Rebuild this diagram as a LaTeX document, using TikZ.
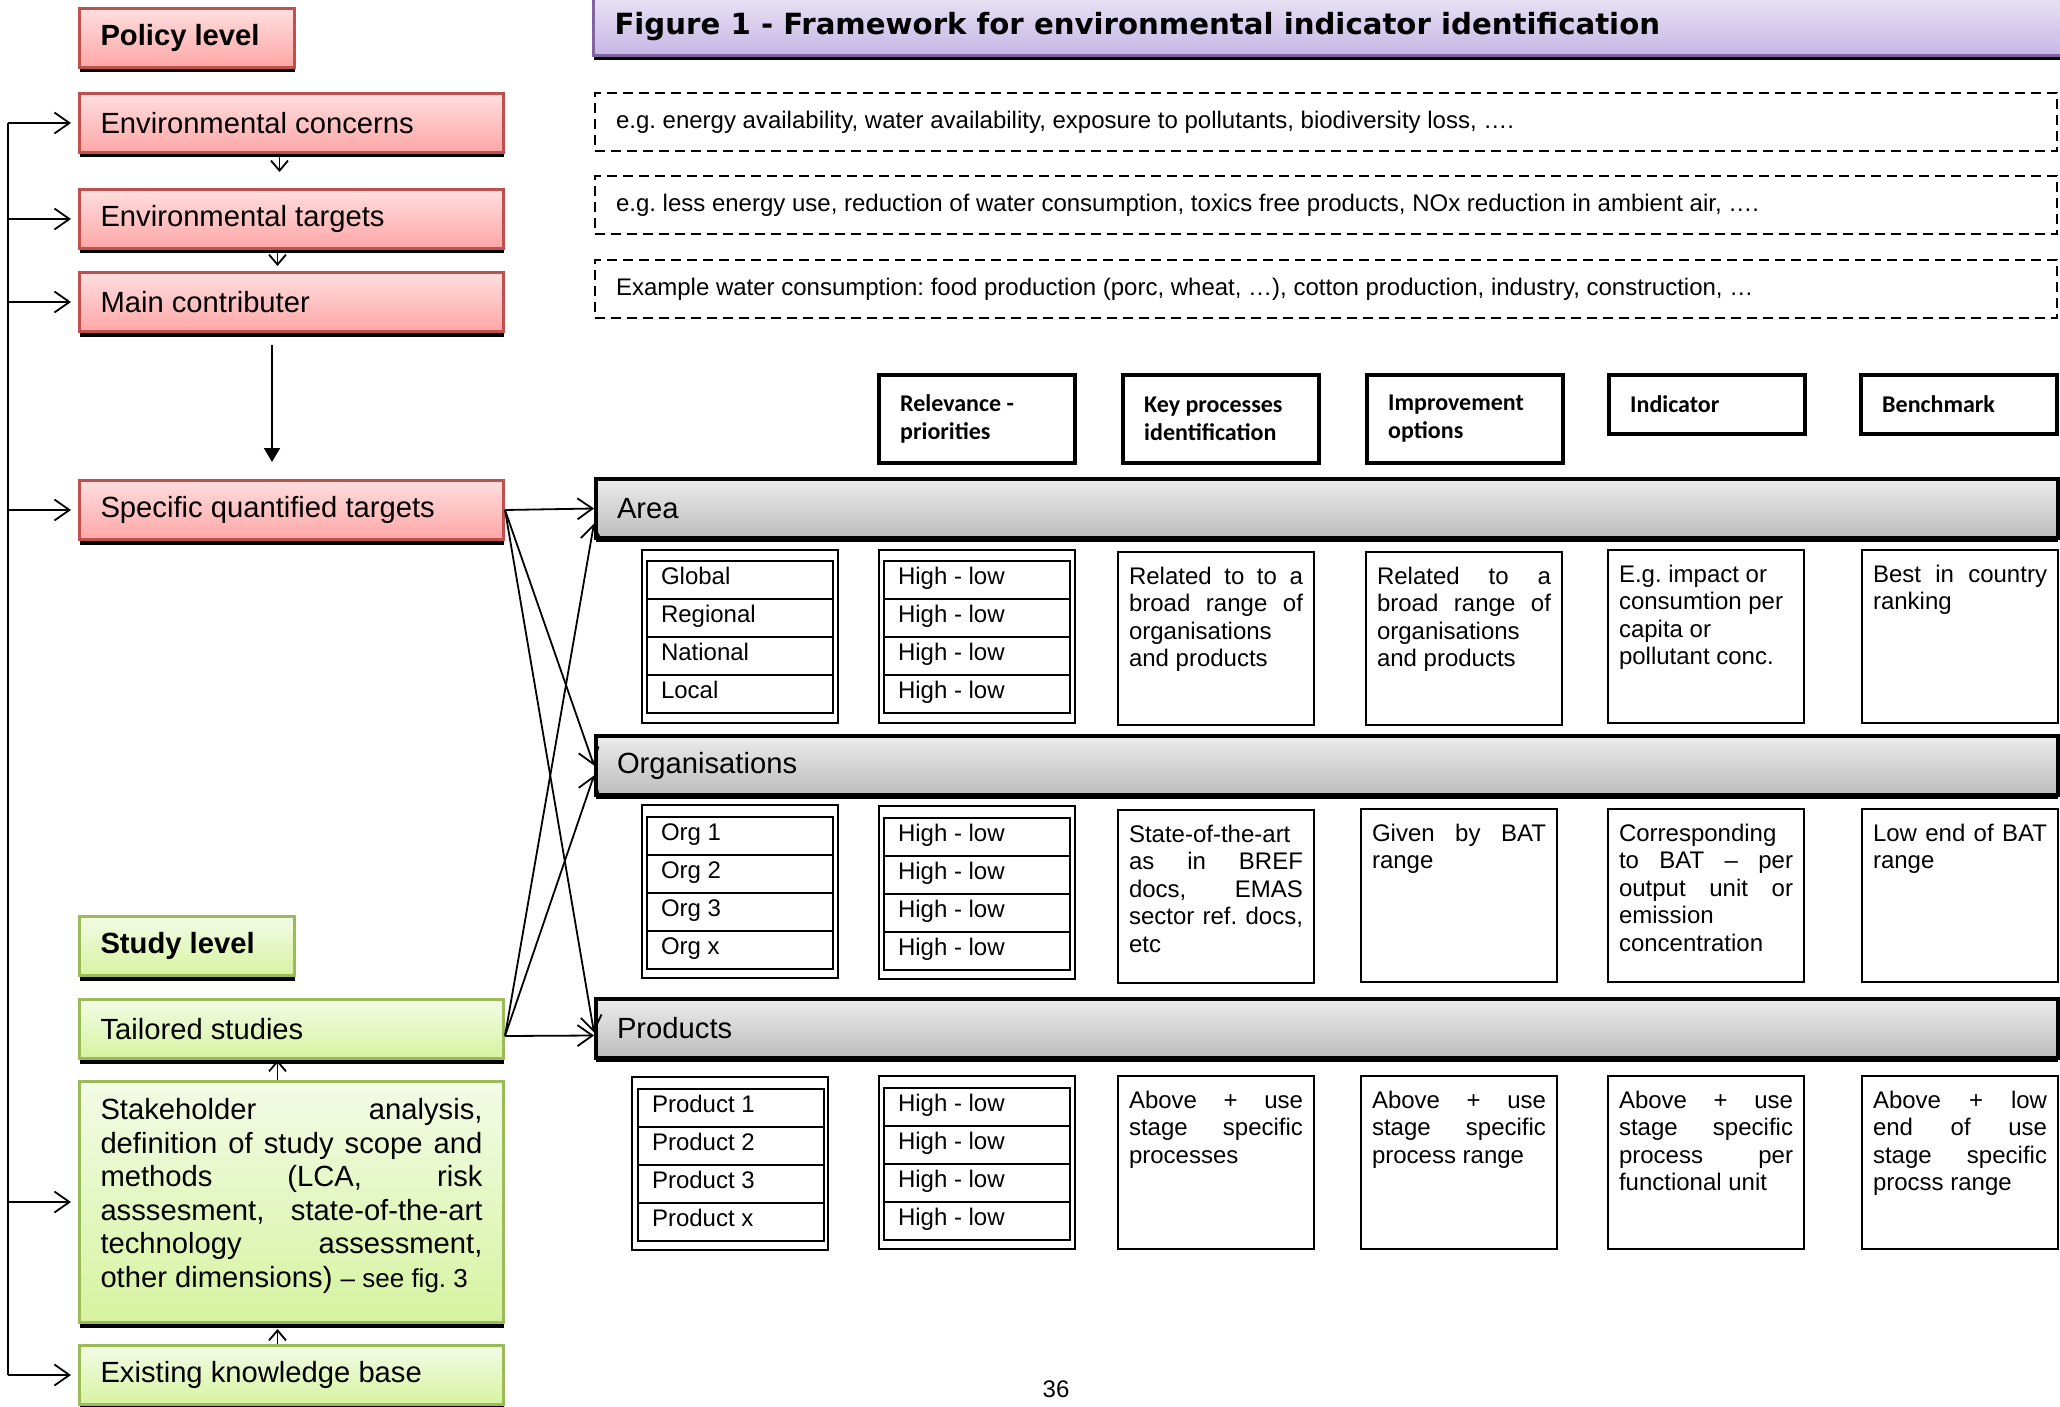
\documentclass[tikz,border=0pt]{standalone}
\usepackage{fontspec}
\setmainfont{Liberation Sans}
\newfontfamily\headfont{Carlito}
\newfontfamily\titlefont{DejaVu Sans}
\usetikzlibrary{arrows.meta,shadows}
\frenchspacing

\definecolor{polred}{RGB}{192,80,77}
\definecolor{polredtop}{RGB}{255,222,222}
\definecolor{polredbot}{RGB}{255,166,166}
\definecolor{studygreen}{RGB}{155,187,89}
\definecolor{studytop}{RGB}{243,251,230}
\definecolor{studybot}{RGB}{214,243,160}
\definecolor{figpurple}{RGB}{128,100,162}
\definecolor{figtop}{RGB}{232,226,244}
\definecolor{figbot}{RGB}{198,182,228}
\definecolor{bartop}{RGB}{236,236,236}
\definecolor{barbot}{RGB}{188,188,188}

\newcommand{\bigtxt}{\fontsize{14.6}{16.8}\selectfont}
\newcommand{\smalltxt}{\fontsize{12}{13.8}\selectfont}
\newcommand{\headtxt}{\headfont\bfseries\fontsize{12}{14}\selectfont}
\newcommand{\spread}[1]{\makebox[\linewidth][s]{\spaceskip=0pt\xspaceskip=0pt #1}}

\begin{document}
\begin{tikzpicture}[x=0.5pt, y=-0.5pt,
  every node/.append style={execute at begin node={\spaceskip=0pt\xspaceskip=0pt\rightskip=0pt plus 1fil\relax}},
  shadowed/.style={drop shadow={shadow xshift=0pt, shadow yshift=-2.5pt, opacity=1, fill=black}},
  polbox/.style={shadowed, draw=polred, line width=1.5pt, top color=polredtop, bottom color=polredbot,
    anchor=north west, minimum height=29.5pt, inner xsep=10.5pt, align=left, font=\bigtxt},
  studybox/.style={polbox, draw=studygreen, top color=studytop, bottom color=studybot},
  wide/.style={text width=191pt},
  narrow/.style={text width=86.5pt},
  figbox/.style={shadowed, draw=figpurple, line width=1.5pt, top color=figtop, bottom color=figbot,
    anchor=north west, minimum height=29pt, text width=713.5pt, inner xsep=10.5pt, align=left},
  dashbox/.style={draw, line width=1pt, dash pattern=on 5pt off 3pt, anchor=north west,
    minimum height=29pt, text width=710pt, inner xsep=10.5pt, align=left, font=\smalltxt},
  headbox/.style={draw, line width=2.2pt, anchor=north west, text width=76.8pt, inner xsep=10.5pt,
    align=left, font=\headtxt},
  barbox/.style={drop shadow={shadow xshift=0pt, shadow yshift=-2pt, opacity=1, fill=black},
    draw, line width=2pt, top color=bartop, bottom color=barbot, anchor=north west,
    minimum height=29.5pt, text width=710pt, inner xsep=10.5pt, align=left, font=\bigtxt},
  cell/.style={draw, line width=1pt, anchor=north west, minimum width=98pt, minimum height=86.5pt},
  celltxt/.style={cell, text width=87pt, inner xsep=5.5pt, inner ysep=0pt, text height=16pt,
    text depth=70.5pt, align=left, font=\smalltxt},
  rowcell/.style={draw, line width=1pt, anchor=north west, text width=79pt, inner xsep=7pt,
    inner ysep=0pt, text height=11.5pt, text depth=7.5pt, align=left, font=\smalltxt},
  conn/.style={line width=0.9pt, -{Straight Barb[length=7.5pt,width=10.5pt]}},
  small/.style={line width=0.9pt, -{Straight Barb[length=5pt,width=8.5pt]}}]
\useasboundingbox (0,0) rectangle (2060,1407);

% policy level
\node[polbox, narrow, font=\bigtxt\bfseries] (policy) at (78,7) {Policy level};
\node[polbox, wide] (envc) at (78,92) {Environmental concerns};
\node[polbox, wide] (envt) at (78,188) {Environmental targets};
\node[polbox, wide] (mainc) at (78,271) {Main contributer};
\node[polbox, wide] (spec) at (78,479) {Specific quantified targets};

% study level
\node[studybox, narrow, font=\bigtxt\bfseries] (study) at (78,915) {Study level};
\node[studybox, wide] (tail) at (78,998) {Tailored studies};
\node[studybox, wide, minimum height=120.5pt] (stake) at (78,1080)
  {\spread{Stakeholder analysis,}\\\spread{definition of study scope and}\\
   \spread{methods (LCA, risk}\\\spread{asssesment, state-of-the-art}\\
   \spread{technology assessment,}\\other dimensions) {\fontsize{13}{16.8}\selectfont – see fig. 3}\par\kern6pt};
\node[studybox, wide] (exist) at (78,1344) {Existing knowledge base};

% title and examples
\node[figbox] (title) at (592,-4)
  {\titlefont\bfseries\fontsize{14.6}{17}\selectfont Figure 1 - Framework for environmental indicator identification};
\node[dashbox] (concernsex) at (594,92)
  {e.g. energy availability, water availability, exposure to pollutants, biodiversity loss, ….};
\node[dashbox] (targetsex) at (594,175)
  {e.g. less energy use, reduction of water consumption, toxics free products, NOx reduction in ambient air, ….};
\node[dashbox] (contribex) at (594,259)
  {Example water consumption: food production (porc, wheat, …), cotton production, industry, construction, …};

% column heads
\node[headbox, minimum height=43.8pt] (relevance) at (877,373) {Relevance -\\priorities};
\node[headbox, minimum height=43.8pt] (keyproc) at (1121,373) {Key processes\\identification};
\node[headbox, minimum height=43.8pt] (improve) at (1365,373) {Improvement\\options};
\node[headbox, minimum height=29.3pt] (indicator) at (1607,373) {Indicator};
\node[headbox, minimum height=29.3pt] (benchmark) at (1859,373) {Benchmark};

% levels
\node[barbox] (area) at (594,477) {Area};
\node[barbox] (orgs) at (594,734) {Organisations};
\node[barbox] (prods) at (594,997) {Products};

% area row
\node[cell] (areaA) at (641,549) {};
\foreach \t [count=\i from 0] in {Global,Regional,National,Local}
  \node[rowcell] (areaA\i) at (646,560+38*\i) {\t};
\node[cell] (areaB) at (878,549) {};
\foreach \i in {0,...,3}
  \node[rowcell] (areaB\i) at (883,560+38*\i) {High - low};
\node[celltxt] (areaC) at (1117,551) {\spread{Related to to a}\\\spread{broad range of}\\organisations\\and products};
\node[celltxt] (areaD) at (1365,551) {\spread{Related to a}\\\spread{broad range of}\\organisations\\and products};
\node[celltxt] (areaE) at (1607,549) {E.g. impact or\\consumtion per\\capita or\\pollutant conc.};
\node[celltxt] (areaF) at (1861,549) {\spread{Best in country}\\ranking};

% organisations row
\node[cell] (orgsA) at (641,804) {};
\foreach \t [count=\i from 0] in {Org 1,Org 2,Org 3,Org x}
  \node[rowcell] (orgsA\i) at (646,816+38*\i) {\t};
\node[cell] (orgsB) at (878,805) {};
\foreach \i in {0,...,3}
  \node[rowcell] (orgsB\i) at (883,817+38*\i) {High - low};
\node[celltxt] (orgsC) at (1117,809) {State-of-the-art\\\spread{as in BREF}\\\spread{docs, EMAS}\\\spread{sector ref. docs,}\\etc};
\node[celltxt] (orgsD) at (1360,808) {\spread{Given by BAT}\\range};
\node[celltxt] (orgsE) at (1607,808) {Corresponding\\\spread{to BAT – per}\\\spread{output unit or}\\emission\\concentration};
\node[celltxt] (orgsF) at (1861,808) {\spread{Low end of BAT}\\range};

% products row
\node[cell] (prodsA) at (631,1076) {};
\foreach \t [count=\i from 0] in {Product 1,Product 2,Product 3,Product x}
  \node[rowcell] (prodsA\i) at (637,1088+38*\i) {\t};
\node[cell] (prodsB) at (878,1075) {};
\foreach \i in {0,...,3}
  \node[rowcell] (prodsB\i) at (883,1087+38*\i) {High - low};
\node[celltxt] (prodsC) at (1117,1075) {\spread{Above + use}\\\spread{stage specific}\\processes};
\node[celltxt] (prodsD) at (1360,1075) {\spread{Above + use}\\\spread{stage specific}\\process range};
\node[celltxt] (prodsE) at (1607,1075) {\spread{Above + use}\\\spread{stage specific}\\\spread{process per}\\functional unit};
\node[celltxt] (prodsF) at (1861,1075) {\spread{Above + low}\\\spread{end of use}\\\spread{stage specific}\\procss range};

\node[font=\smalltxt] (pagenum) at (1056,1389) {36};

% feedback line on the left
\coordinate (fb) at (8,0);
\draw[line width=0.9pt] (fb |- envc.west) -- (fb |- exist.west);
\foreach \b in {envc,envt,mainc,spec,stake,exist}
  \draw[conn, shorten >=3.5pt] (fb |- \b.west) -- (\b.west);

% arrows between the boxes
\draw[small, shorten >=8pt] ([xshift=-6pt]envc.south) -- ([xshift=-6pt]envt.north);
\draw[small, shorten >=2.5pt] ([xshift=-7pt]envt.south) -- ([xshift=-7pt]mainc.north);
\draw[line width=0.9pt, -{Triangle[length=7pt,width=8pt]}, shorten <=6pt, shorten >=8.5pt]
  ([xshift=-9.75pt]mainc.south) -- ([xshift=-9.75pt]spec.north);
\draw[small] ([xshift=-7pt]stake.north) -- ([xshift=-7pt]tail.south);
\draw[small, shorten >=2.5pt] ([xshift=-7pt]exist.north) -- ([xshift=-7pt]stake.south);

% targets and studies to the levels
\draw[conn] (spec.east) -- (area.west);
\draw[conn] (spec.east) -- (orgs.west);
\draw[conn] (spec.east) -- ([yshift=-2pt]prods.west);
\draw[conn] ([yshift=-3.5pt]tail.east) -- ([yshift=-7.5pt]area.west);
\draw[conn] ([yshift=-3.5pt]tail.east) -- ([yshift=-5pt]orgs.west);
\draw[conn] ([yshift=-3.5pt]tail.east) -- ([yshift=-3.5pt]prods.west);
\end{tikzpicture}
\end{document}
